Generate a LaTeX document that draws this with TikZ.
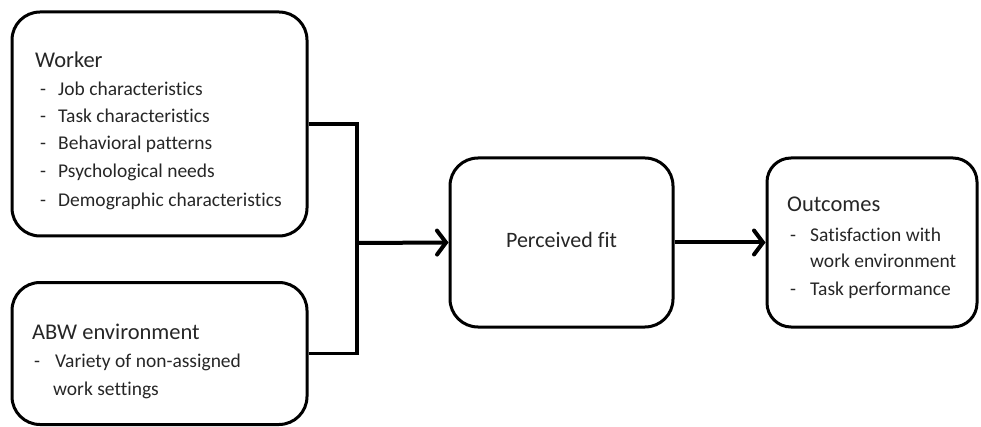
\documentclass[tikz,border=0pt]{standalone}
\usepackage{fontspec}
\setmainfont[Ligatures=NoCommon]{Carlito}
\usetikzlibrary{arrows.meta}
\begin{document}
\begin{tikzpicture}[x=1pt,y=-1pt,
  box/.style={draw=black, line width=3pt, rounded corners=28pt, inner sep=0pt},
  head/.style={anchor=base west, inner sep=0pt, text=black!85, font=\fontsize{22.5}{26}\selectfont},
  item/.style={anchor=base west, inner sep=0pt, text=black!85, font=\fontsize{19.5}{23}\selectfont},
  conn/.style={line width=3.5pt},
  arr/.style={line width=4pt, -{Straight Barb[length=9pt,width=24pt,line cap=round]}}
]
\useasboundingbox (0,0) rectangle (981,427);
% boxes
\node[box, minimum width=295pt, minimum height=224pt] (worker) at (159.5,124) {};
\node[box, minimum width=295pt, minimum height=142pt] (abw) at (159.5,353.5) {};
\node[box, minimum width=223pt, minimum height=169pt] (fit) at (561.5,242.5) {};
\node[box, minimum width=210pt, minimum height=169pt, rounded corners=24pt] (out) at (872,242.5) {};
% worker text
\node[head] (wh) at (35,68) {Worker};
\node[item] (wd1) at (40,96) {-};
\node[item] (wi1) at (58,96) {Job characteristics};
\node[item] (wd2) at (40,123) {-};
\node[item] (wi2) at (58,123) {Task characteristics};
\node[item] (wd3) at (40,150) {-};
\node[item] (wi3) at (58,150) {Behavioral patterns};
\node[item] (wd4) at (40,178) {-};
\node[item] (wi4) at (58,178) {Psychological needs};
\node[item] (wd5) at (40,207) {-};
\node[item] (wi5) at (58,207) {Demographic characteristics};
% abw text
\node[head] (ah) at (32,339) {ABW environment};
\node[item] (ad1) at (34,367) {-};
\node[item] (ai1) at (55,367) {Variety of non-assigned};
\node[item] (ai2) at (53,395) {work settings};
% fit text
\node[inner sep=0pt, text=black!85, font=\fontsize{22}{26}\selectfont] (ft) at ([yshift=3pt]fit.center) {Perceived fit};
% outcomes text
\node[head] (oh) at (787,212) {Outcomes};
\node[item] (od1) at (790,242) {-};
\node[item] (oi1) at (810,242) {Satisfaction with};
\node[item] (oi2) at (810,268) {work environment};
\node[item] (od2) at (790,295) {-};
\node[item] (oi3) at (810,295) {Task performance};
% connectors
\coordinate (j) at (357,243);
\draw[conn] (worker.east) -| (j);
\draw[conn] (abw.east) -| (j);
\draw[arr] (j) -- (fit.west);
\draw[arr] (fit.east) -- (out.west);
\end{tikzpicture}
\end{document}
